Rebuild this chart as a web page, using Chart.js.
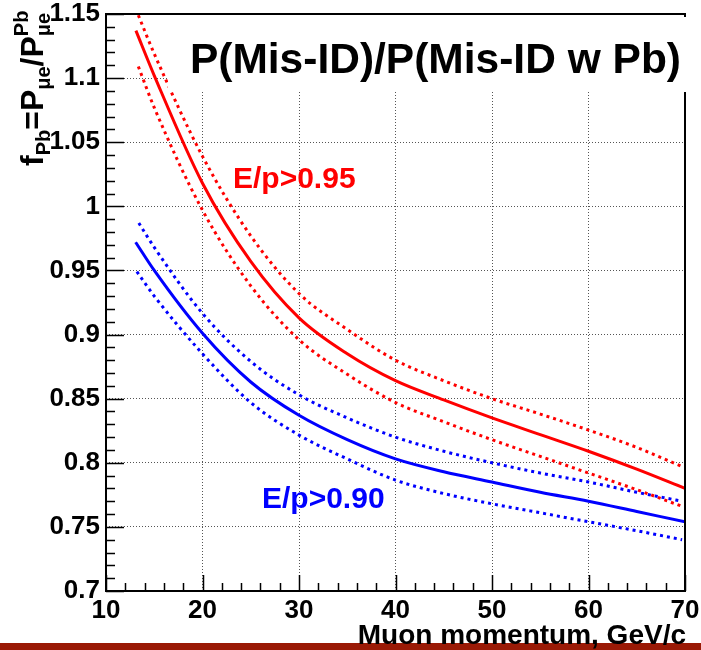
<!DOCTYPE html>
<html>
<head>
<meta charset="utf-8">
<script src="https://cdn.jsdelivr.net/npm/chart.js@4"></script>
<style>
  html, body { margin: 0; padding: 0; background: #fff; }
</style>
</head>
<body>
<canvas id="graficoFpb" width="701" height="650"></canvas>
<script>
// valores: momento do muon (GeV/c) e razao f_Pb para cada curva
const vermelhoMeioP = [13.1, 15, 20, 25, 30, 35, 40, 45, 50, 55, 60, 65, 70];
const vermelhoMeio = [1.137, 1.102, 1.018, 0.957, 0.913, 0.885, 0.864, 0.849, 0.835, 0.822, 0.809, 0.795, 0.780];
const vermelhoSupP = [13.35, 15, 20, 25, 30, 35, 40, 45, 50, 55, 60, 65, 69.7];
const vermelhoSup = [1.149, 1.119, 1.039, 0.977, 0.932, 0.904, 0.880, 0.864, 0.850, 0.838, 0.8255, 0.812, 0.797];
const vermelhoInfP = [13.35, 15, 20, 25, 30, 35, 40, 45, 50, 55, 60, 65, 69.7];
const vermelhoInf = [1.109, 1.077, 0.997, 0.938, 0.896, 0.869, 0.847, 0.832, 0.818, 0.805, 0.792, 0.779, 0.766];

const azulMeioP = [13.07, 15, 20, 25, 30, 35, 40, 45, 50, 55, 60, 65, 70];
const azulMeio = [0.972, 0.950, 0.901, 0.863, 0.837, 0.818, 0.803, 0.793, 0.785, 0.777, 0.770, 0.762, 0.754];
const azulSupP = [13.4, 15, 20, 25, 30, 35, 40, 45, 50, 55, 60, 65, 69.7];
const azulSup = [0.987, 0.968, 0.9165, 0.879, 0.853, 0.835, 0.820, 0.809, 0.800, 0.792, 0.785, 0.777, 0.770];
const azulInfP = [13.2, 15, 20, 25, 30, 35, 40, 45, 50, 55, 60, 65, 69.7];
const azulInf = [0.949, 0.930, 0.885, 0.847, 0.8216, 0.803, 0.7865, 0.776, 0.768, 0.761, 0.754, 0.747, 0.740];

// rotulos dos eixos
const rotulosX = [10, 20, 30, 40, 50, 60, 70];
const rotulosY = [0.7, 0.75, 0.8, 0.85, 0.9, 0.95, 1.0, 1.05, 1.1, 1.15];

const fonte = '"Liberation Sans", Arial, Helvetica, sans-serif';

function pontos(xs, ys) {
  return xs.map((x, i) => ({ x: x, y: ys[i] }));
}

function curva(rotulo, xs, ys, cor, tracejada) {
  return {
    label: rotulo,
    data: pontos(xs, ys),
    borderColor: cor,
    borderWidth: 3,
    borderDash: tracejada ? [3, 4] : [],
    pointRadius: 0,
    fill: false,
    cubicInterpolationMode: 'monotone'
  };
}

// moldura, ticks menores e textos no estilo ROOT
const estiloRoot = {
  id: 'estiloRoot',
  afterDraw(chart) {
    const ctx = chart.ctx;
    const a = chart.chartArea;
    const sx = chart.scales.x;
    const sy = chart.scales.y;
    ctx.save();

    ctx.strokeStyle = '#000';
    ctx.lineWidth = 1.5;
    ctx.beginPath();
    for (let v = 10; v <= 70; v += 2) {
      const px = Math.round(sx.getPixelForValue(v)) + 0.5;
      const len = v % 10 === 0 ? 16 : 8;
      ctx.moveTo(px, a.bottom);
      ctx.lineTo(px, a.bottom - len);
    }
    for (let i = 70; i <= 115; i++) {
      const py = Math.round(sy.getPixelForValue(i / 100)) + 0.5;
      const len = i % 5 === 0 ? 18 : 9;
      ctx.moveTo(a.left, py);
      ctx.lineTo(a.left + len, py);
    }
    ctx.stroke();

    ctx.lineWidth = 2;
    ctx.strokeRect(a.left, a.top, a.right - a.left, a.bottom - a.top);

    // caixa branca do titulo
    ctx.fillStyle = '#fff';
    ctx.fillRect(168, 17, 520, 75);
    ctx.fillStyle = '#000';
    ctx.font = 'bold 42.5px ' + fonte;
    ctx.textAlign = 'right';
    ctx.textBaseline = 'alphabetic';
    ctx.fillText('P(Mis-ID)/P(Mis-ID w Pb)', 681, 73);

    ctx.textAlign = 'left';
    ctx.font = 'bold 30px ' + fonte;
    ctx.fillStyle = '#ff0000';
    ctx.fillText('E/p>0.95', 233, 188);
    ctx.fillStyle = '#0000ff';
    ctx.fillText('E/p>0.90', 262, 508);

    // faixa vermelha do rodape do slide
    ctx.fillStyle = '#9a1a06';
    ctx.fillRect(0, 643, 701, 7);

    // titulo do eixo x
    ctx.fillStyle = '#000';
    ctx.textAlign = 'right';
    ctx.font = 'bold 28px ' + fonte;
    ctx.fillText('Muon momentum, GeV/c', 686, 644);

    // titulo do eixo y: f_Pb = P_μe / P_μe^Pb
    const grande = 'bold 32px ' + fonte;
    const pequena = 'bold 20px ' + fonte;
    ctx.textAlign = 'left';
    ctx.translate(43, 166);
    ctx.rotate(-Math.PI / 2);
    let x = 0;
    ctx.font = grande; ctx.fillText('f', x, 0); x += ctx.measureText('f').width;
    ctx.font = pequena; ctx.fillText('Pb', x, 7); x += ctx.measureText('Pb').width;
    ctx.font = grande; ctx.fillText('=P', x, 0); x += ctx.measureText('=P').width;
    ctx.font = pequena; ctx.fillText('\u03bce', x, 7); x += ctx.measureText('\u03bce').width;
    ctx.font = grande; ctx.fillText('/P', x, 0); x += ctx.measureText('/P').width;
    ctx.font = pequena; ctx.fillText('\u03bce', x, 7); ctx.fillText('Pb', x, -15);

    ctx.restore();
  }
};

const graficoFpb = new Chart(document.getElementById('graficoFpb'), {
  type: 'line',
  data: {
    datasets: [
      curva('E/p>0.95', vermelhoMeioP, vermelhoMeio, '#ff0000', false),
      curva('E/p>0.95 sup', vermelhoSupP, vermelhoSup, '#ff0000', true),
      curva('E/p>0.95 inf', vermelhoInfP, vermelhoInf, '#ff0000', true),
      curva('E/p>0.90', azulMeioP, azulMeio, '#0000ff', false),
      curva('E/p>0.90 sup', azulSupP, azulSup, '#0000ff', true),
      curva('E/p>0.90 inf', azulInfP, azulInf, '#0000ff', true)
    ]
  },
  options: {
    responsive: false,
    animation: false,
    devicePixelRatio: 1,
    layout: { padding: { left: 0, top: 14, right: 16, bottom: 0 } },
    plugins: { legend: { display: false }, title: { display: false }, tooltip: { enabled: false } },
    scales: {
      x: {
        type: 'linear',
        min: 10,
        max: 70,
        afterBuildTicks(s) { s.ticks = rotulosX.map(v => ({ value: v })); },
        afterFit(s) { s.height = 59; s.paddingLeft = 0; s.paddingRight = 0; },
        ticks: {
          autoSkip: false, maxRotation: 0, padding: 4, color: '#000',
          font: { family: fonte, size: 26, weight: 'bold' }
        },
        grid: { color: '#555', lineWidth: 1, drawTicks: false },
        border: { display: false, dash: [1, 2] }
      },
      y: {
        type: 'linear',
        min: 0.7,
        max: 1.15,
        afterBuildTicks(s) { s.ticks = rotulosY.map(v => ({ value: v })); },
        afterFit(s) { s.width = 106; s.paddingTop = 0; s.paddingBottom = 0; },
        ticks: {
          autoSkip: false, padding: 6, color: '#000',
          font: { family: fonte, size: 26, weight: 'bold' },
          callback: v => String(+v.toFixed(2))
        },
        grid: { color: '#555', lineWidth: 1, drawTicks: false },
        border: { display: false, dash: [1, 2] }
      }
    }
  },
  plugins: [estiloRoot]
});
</script>
</body>
</html>
